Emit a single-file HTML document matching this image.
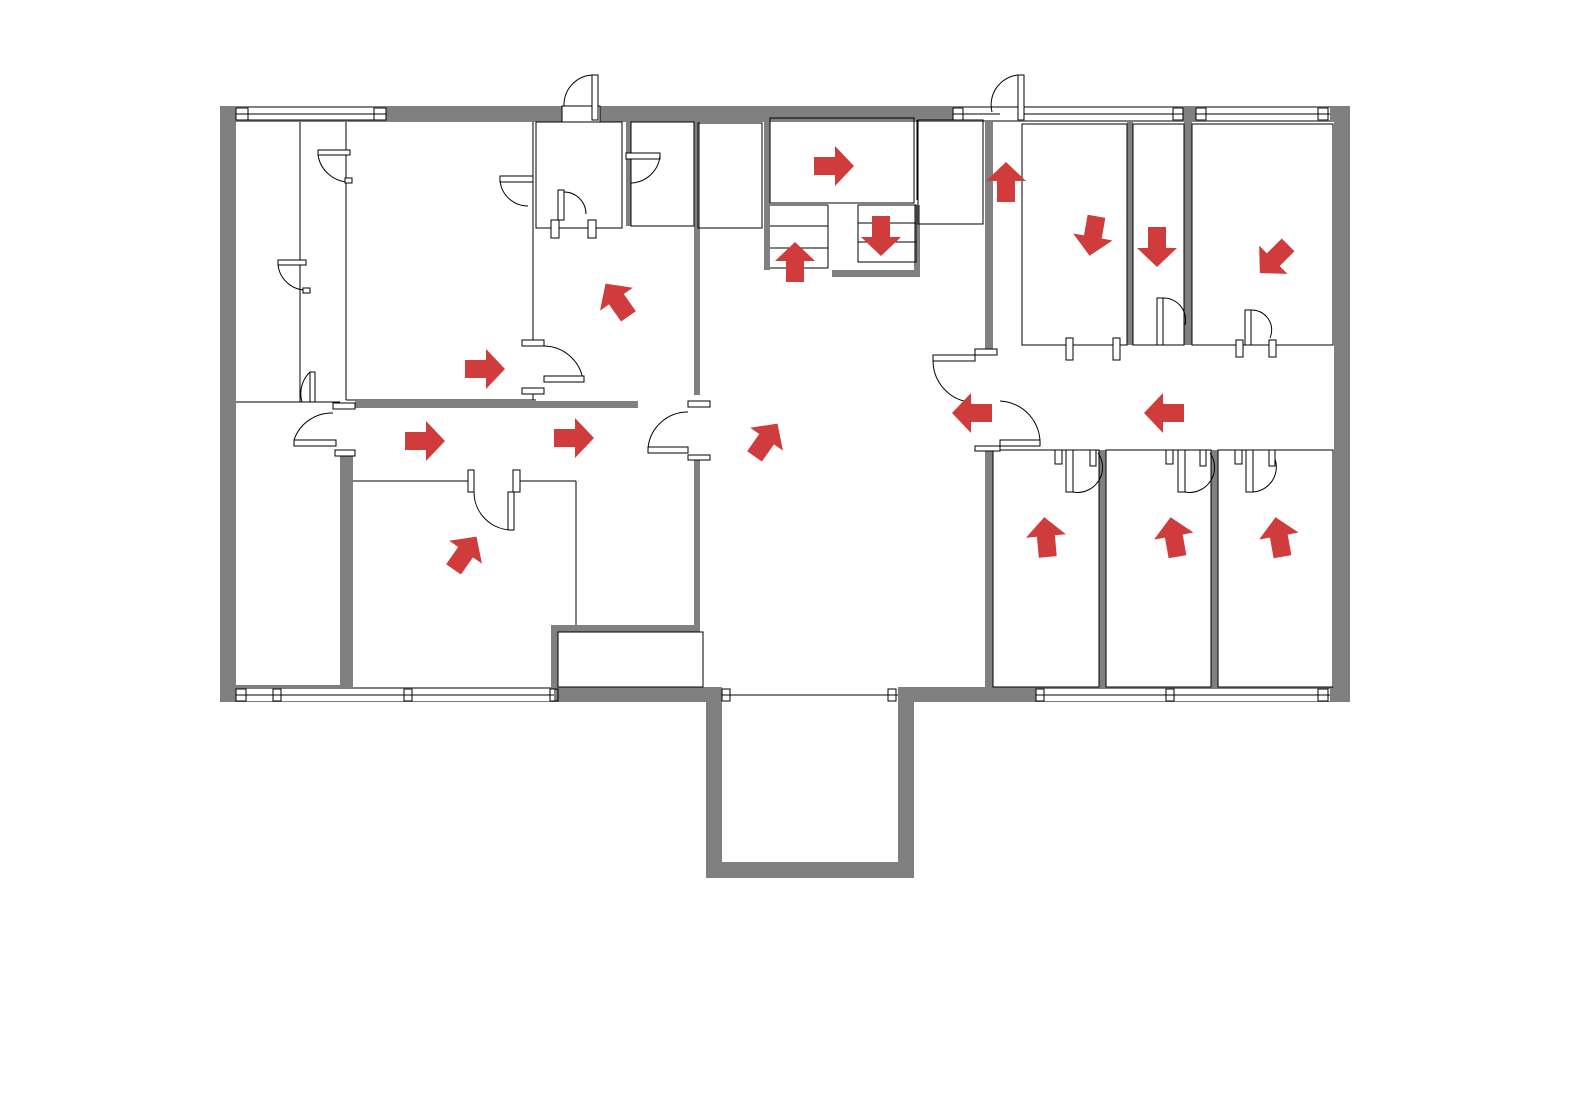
<!DOCTYPE html>
<html><head><meta charset="utf-8"><style>html,body{margin:0;padding:0;background:#fff}svg{display:block}</style></head>
<body>
<svg width="1588" height="1119" viewBox="0 0 1588 1119" xmlns="http://www.w3.org/2000/svg">
<defs>
<path id="ar" d="M-20,-9 L1,-9 L1,-20 L20,0 L1,20 L1,9 L-20,9 Z" fill="#d03b3b"/>
</defs>
<g fill="#808080">
<!-- outer -->
<rect x="220" y="106" width="1130" height="16"/>
<rect x="220" y="106" width="16" height="596"/>
<rect x="1334" y="106" width="16" height="596"/>
<rect x="220" y="687" width="1130" height="15"/>
<!-- balcony -->
<rect x="706" y="687" width="208" height="191"/>
<!-- interior -->
<rect x="340" y="450" width="13" height="237"/>
<rect x="355" y="401" width="283" height="7"/>
<rect x="694" y="122" width="6" height="273"/>
<rect x="694" y="455" width="6" height="175"/>
<rect x="551" y="625" width="149" height="7"/>
<rect x="551" y="625" width="7" height="65"/>
<rect x="764" y="120" width="6" height="150"/>
<rect x="832" y="270" width="88" height="7"/>
<rect x="914" y="205" width="6" height="72"/>
<rect x="985" y="122" width="8" height="230"/>
<rect x="985" y="448" width="8" height="239"/>
<rect x="1127" y="122" width="6" height="223"/>
<rect x="1184" y="108" width="8" height="237"/>
<rect x="1099" y="450" width="7" height="237"/>
<rect x="1211" y="450" width="7" height="237"/>
<rect x="626" y="122" width="5" height="104"/>
</g>
<g fill="#fff">
<rect x="722" y="687" width="176" height="175"/>
<!-- window gaps -->
<rect x="236" y="108" width="150" height="12"/>
<rect x="562" y="106" width="38" height="16"/>
<rect x="953" y="108" width="70" height="12"/>
<rect x="1023" y="108" width="160" height="12"/>
<rect x="1196" y="108" width="134" height="12"/>
<rect x="236" y="689" width="318" height="12"/>
<rect x="722" y="689" width="176" height="12"/>
<rect x="1036" y="689" width="294" height="12"/>
</g>
<g fill="none" stroke="#000" stroke-width="1">
<!-- window lines -->
<line x1="236" y1="114" x2="386" y2="114"/><line x1="236" y1="120" x2="386" y2="120"/>
<rect x="236" y="108" width="12" height="12"/><rect x="374" y="108" width="12" height="12"/>
<line x1="953" y1="114" x2="1000" y2="114"/><rect x="953" y="108" width="10" height="12"/>
<line x1="1023" y1="114" x2="1183" y2="114"/><rect x="1173" y="108" width="10" height="12"/>
<line x1="1196" y1="114" x2="1330" y2="114"/><rect x="1196" y="108" width="10" height="12"/><rect x="1318" y="108" width="10" height="12"/>
<line x1="236" y1="695" x2="554" y2="695"/><rect x="236" y="689" width="10" height="12"/><rect x="273" y="689" width="8" height="12"/><rect x="404" y="689" width="8" height="12"/><rect x="550" y="689" width="8" height="12"/>
<line x1="722" y1="695" x2="898" y2="695"/><rect x="722" y="689" width="8" height="12"/><rect x="888" y="689" width="8" height="12"/>
<line x1="1036" y1="695" x2="1330" y2="695"/><rect x="1036" y="689" width="8" height="12"/><rect x="1166" y="689" width="8" height="12"/><rect x="1318" y="689" width="10" height="12"/>
<!-- rooms -->
<line x1="300" y1="122" x2="300" y2="402"/>
<line x1="346" y1="122" x2="346" y2="400"/>
<line x1="236" y1="402" x2="340" y2="402"/>
<line x1="236" y1="686" x2="340" y2="686"/>
<line x1="346" y1="400" x2="536" y2="400"/>
<line x1="533" y1="122" x2="533" y2="340"/>
<line x1="533" y1="390" x2="533" y2="400"/>
<rect x="536" y="122" width="86" height="106"/>
<rect x="631" y="122" width="63" height="104"/>
<rect x="698" y="123" width="64" height="105"/>
<rect x="770" y="118" width="144" height="85"/>
<line x1="917" y1="120" x2="917" y2="200"/>
<line x1="770" y1="205" x2="828" y2="205"/><line x1="770" y1="226" x2="828" y2="226"/><line x1="770" y1="248" x2="828" y2="248"/><line x1="770" y1="268" x2="828" y2="268"/><line x1="828" y1="205" x2="828" y2="268"/>
<rect x="858" y="205" width="58" height="57"/><line x1="858" y1="223" x2="916" y2="223"/><line x1="858" y1="242" x2="916" y2="242"/>
<rect x="918" y="120" width="65" height="104"/>
<rect x="1022" y="124" width="105" height="221"/>
<rect x="1133" y="124" width="51" height="221"/>
<rect x="1192" y="124" width="141" height="221"/>
<line x1="353" y1="481" x2="470" y2="481"/><line x1="518" y1="481" x2="576" y2="481"/><line x1="576" y1="481" x2="576" y2="625"/>
<rect x="558" y="632" width="145" height="55"/>
<rect x="993" y="450" width="106" height="237"/>
<rect x="1106" y="450" width="105" height="237"/>
<rect x="1218" y="450" width="115" height="237"/>
<!-- doors -->
<rect x="562" y="106" width="38" height="16" fill="#fff"/>
<rect x="592" y="75" width="6" height="45" fill="#fff"/><path d="M592,75 A30,30 0 0 0 564,106"/>
<rect x="1018" y="75" width="6" height="45" fill="#fff"/><path d="M1018,75 A30,30 0 0 0 992,112"/>
<rect x="318" y="150" width="32" height="5" fill="#fff"/><path d="M318,155 A32,32 0 0 0 350,182"/><rect x="345" y="178" width="7" height="5" fill="#fff"/>
<rect x="278" y="260" width="28" height="5" fill="#fff"/><path d="M278,263 A28,28 0 0 0 306,290"/><rect x="303" y="288" width="7" height="5" fill="#fff"/>
<rect x="310" y="372" width="5" height="30" fill="#fff"/><path d="M310,372 A30,30 0 0 0 302,402"/>
<rect x="500" y="176" width="33" height="6" fill="#fff"/><path d="M500,180 A28,28 0 0 0 528,206"/>
<rect x="558" y="190" width="6" height="30" fill="#fff"/><path d="M564,192 A22,22 0 0 1 586,214"/><rect x="551" y="220" width="8" height="18" fill="#fff"/><rect x="588" y="220" width="8" height="18" fill="#fff"/>
<rect x="626" y="153" width="34" height="6" fill="#fff"/><path d="M660,155 A30,30 0 0 1 631,183"/>
<rect x="522" y="340" width="22" height="6" fill="#fff"/><path d="M544,346 A40,40 0 0 1 583,380"/><rect x="544" y="376" width="40" height="6" fill="#fff"/><rect x="522" y="388" width="22" height="6" fill="#fff"/>
<rect x="333" y="403" width="22" height="6" fill="#fff"/><path d="M333,413 A40,40 0 0 0 294,440"/><rect x="294" y="440" width="42" height="6" fill="#fff"/><rect x="335" y="450" width="20" height="6" fill="#fff"/>
<rect x="468" y="470" width="6" height="22" fill="#fff"/><path d="M474,492 A38,38 0 0 0 512,530"/><rect x="513" y="470" width="7" height="22" fill="#fff"/><rect x="508" y="492" width="6" height="38" fill="#fff"/>
<rect x="688" y="401" width="22" height="6" fill="#fff"/><path d="M688,412 A40,40 0 0 0 648,448"/><rect x="648" y="447" width="40" height="6" fill="#fff"/><rect x="688" y="455" width="22" height="5" fill="#fff"/>
<rect x="975" y="349" width="22" height="6" fill="#fff"/><rect x="933" y="355" width="42" height="6" fill="#fff"/><path d="M933,361 A42,42 0 0 0 968,402"/>
<path d="M1000,401 A42,42 0 0 1 1040,445"/><rect x="1000" y="440" width="40" height="6" fill="#fff"/><rect x="975" y="446" width="25" height="5" fill="#fff"/>
<rect x="1066" y="338" width="7" height="22" fill="#fff"/><rect x="1113" y="338" width="7" height="22" fill="#fff"/>
<rect x="1157" y="298" width="6" height="47" fill="#fff"/><path d="M1163,298 A22,22 0 0 1 1185,325"/>
<rect x="1245" y="310" width="6" height="35" fill="#fff"/><path d="M1251,310 A20,20 0 0 1 1270,338"/><rect x="1236" y="340" width="7" height="17" fill="#fff"/><rect x="1269" y="340" width="7" height="17" fill="#fff"/>
<rect x="1066" y="450" width="7" height="42" fill="#fff"/><path d="M1073,492 A25,25 0 0 0 1098,453"/><rect x="1090" y="450" width="6" height="16" fill="#fff"/><rect x="1055" y="450" width="7" height="14" fill="#fff"/>
<rect x="1178" y="450" width="7" height="42" fill="#fff"/><path d="M1185,492 A25,25 0 0 0 1210,453"/><rect x="1200" y="450" width="6" height="16" fill="#fff"/><rect x="1166" y="450" width="7" height="14" fill="#fff"/>
<rect x="1246" y="450" width="7" height="42" fill="#fff"/><path d="M1253,492 A25,25 0 0 0 1272,453"/><rect x="1269" y="450" width="6" height="16" fill="#fff"/><rect x="1235" y="450" width="7" height="14" fill="#fff"/>
</g>
<!-- arrows -->
<use href="#ar" transform="translate(485,369)"/>
<use href="#ar" transform="translate(425,441)"/>
<use href="#ar" transform="translate(574,438)"/>
<use href="#ar" transform="translate(617,300) rotate(-125)"/>
<use href="#ar" transform="translate(465,553) rotate(-55)"/>
<use href="#ar" transform="translate(766,440) rotate(-55)"/>
<use href="#ar" transform="translate(834,166)"/>
<use href="#ar" transform="translate(795,262) rotate(-90)"/>
<use href="#ar" transform="translate(881,236) rotate(90)"/>
<use href="#ar" transform="translate(1006,182) rotate(-90)"/>
<use href="#ar" transform="translate(1093,236) rotate(100)"/>
<use href="#ar" transform="translate(1157,247) rotate(90)"/>
<use href="#ar" transform="translate(1274,259) rotate(135)"/>
<use href="#ar" transform="translate(972,413) rotate(180)"/>
<use href="#ar" transform="translate(1164,413) rotate(180)"/>
<use href="#ar" transform="translate(1046,537) rotate(-95)"/>
<use href="#ar" transform="translate(1174,537) rotate(-100)"/>
<use href="#ar" transform="translate(1279,537) rotate(-100)"/>
</svg>
</body></html>
